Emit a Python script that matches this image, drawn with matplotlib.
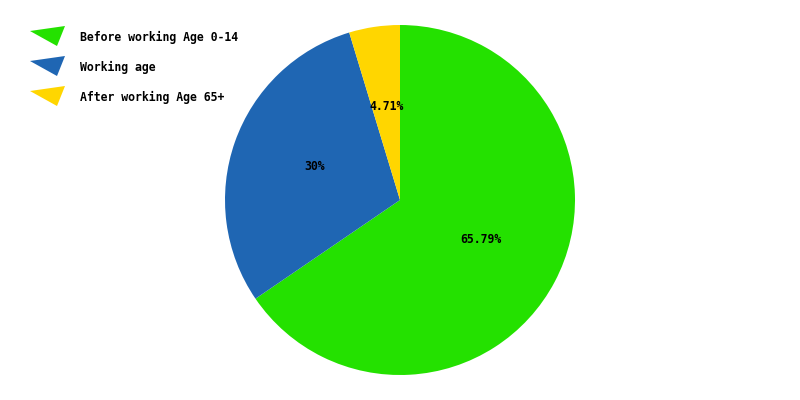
import matplotlib.pyplot as plt
from matplotlib.patches import Polygon
import numpy as np

# data
groups = ["Before working Age 0-14", "Working age", "After working Age 65+"]
shares = [65.79, 30, 4.71]
pct_labels = ["65.79%", "30%", "4.71%"]
colors = ["#24e100", "#1f66b3", "#ffd600"]

fig = plt.figure(figsize=(8, 4), dpi=100)
ax = fig.add_axes([225 / 800, 25 / 400, 350 / 800, 350 / 400])

wedges, _ = ax.pie(shares, colors=colors, startangle=90, counterclock=False,
                   radius=1, wedgeprops=dict(linewidth=0))
ax.set_xlim(-1, 1)
ax.set_ylim(-1, 1)
ax.set_aspect("equal")
ax.axis("off")

for w, lab in zip(wedges, pct_labels):
    mid = np.deg2rad((w.theta1 + w.theta2) / 2)
    ax.text(0.52 * np.cos(mid), 0.52 * np.sin(mid) + 0.018, lab, ha="center", va="center",
            fontsize=8.3, fontweight="bold", family="DejaVu Sans Mono", color="black")

# legend with little wedge markers
for i, (g, c) in enumerate(zip(groups, colors)):
    y0 = 30 * i
    pts = [(30, 31 + y0), (65, 26 + y0), (57, 46 + y0)]
    pts = [(x / 800, 1 - y / 400) for x, y in pts]
    fig.patches.append(Polygon(pts, closed=True, facecolor=c, edgecolor="none",
                               transform=fig.transFigure))
    fig.text(80 / 800, 1 - (37 + y0) / 400, g, ha="left", va="center",
             fontsize=8.3, fontweight="bold", family="DejaVu Sans Mono", color="black")

fig.savefig("out.png", dpi=100)
